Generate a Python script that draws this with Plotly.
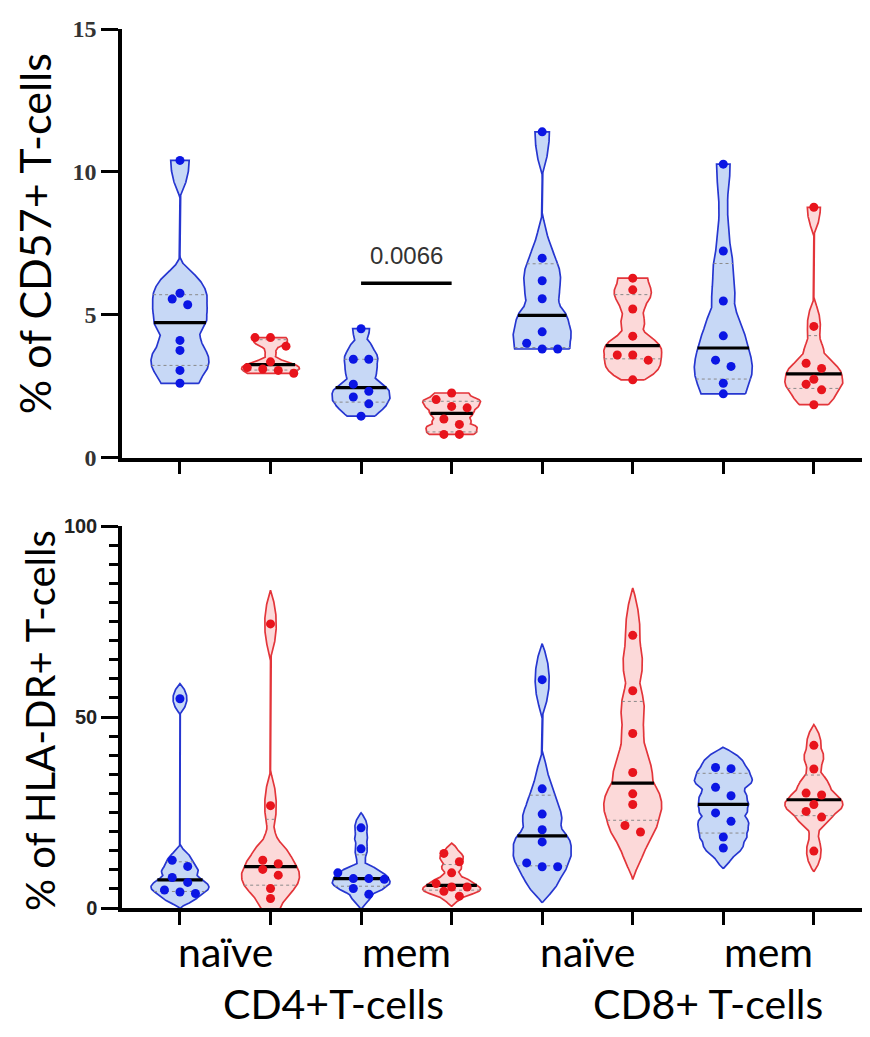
import numpy as np
import plotly.graph_objects as go

# ---------------- data ----------------
subsets = ["naïve", "mem", "naïve", "mem"]
lineages = ["CD4+T-cells", "CD8+ T-cells"]

# % of CD57+ T-cells, order: CD4 naive, CD4 mem, CD8 naive, CD8 mem
cd57_blue = [
    [10.4, 5.75, 5.55, 5.35, 4.1, 3.75, 3.05, 2.6],
    [4.51, 3.44, 3.44, 2.57, 2.32, 2.12, 1.88, 1.45],
    [11.4, 6.98, 6.19, 5.56, 4.4, 4.0, 3.8, 3.8],
    [10.27, 7.23, 5.48, 4.26, 3.41, 3.19, 2.6, 2.23],
]
cd57_red = [
    [4.2, 4.2, 3.9, 3.35, 3.15, 3.1, 3.05, 2.95],
    [2.26, 2.03, 1.79, 1.74, 1.35, 1.16, 0.81, 0.81],
    [6.28, 5.87, 5.2, 4.25, 3.59, 3.59, 3.41, 2.72],
    [8.76, 4.59, 3.3, 3.12, 2.74, 2.57, 2.37, 1.85],
]
# % of HLA-DR+ T-cells
hladr_blue = [
    [54.8, 12.5, 10.9, 8.0, 6.7, 4.7, 4.2, 3.8],
    [21.0, 15.5, 9.2, 7.7, 7.7, 7.5, 5.1, 3.6],
    [59.8, 31.2, 24.6, 20.5, 17.3, 11.8, 10.8, 10.8],
    [36.8, 36.5, 31.6, 29.4, 24.9, 22.7, 18.6, 15.7],
]
hladr_red = [
    [74.4, 26.8, 12.5, 11.6, 10.1, 8.6, 5.1, 2.5],
    [14.3, 12.1, 9.2, 6.4, 5.5, 5.5, 4.4, 3.1],
    [71.4, 56.9, 45.7, 35.5, 29.9, 27.1, 21.6, 19.9],
    [42.6, 36.4, 30.1, 29.6, 27.1, 25.3, 23.8, 14.9],
]
cd57_ticks = [0, 5, 10, 15]
hladr_ticks = [0, 50, 100]
pvalue_text = "0.0066"
pvalue_pair = (2, 3)      # CD4 mem blue vs red
pvalue_bar_y = 6.1

# ---------------- styling ----------------
PAGE_OFF = 8              # default body margin of the html page
W, H = 870, 1037
ML, MR, MT, MB = 122 - PAGE_OFF, PAGE_OFF, 24 - PAGE_OFF, 129 + PAGE_OFF
X_RANGE = [-0.64, 7.62]
PX_PER_X = (W - ML - MR) / (X_RANGE[1] - X_RANGE[0])
PLOT_H = H - MT - MB
TOP_DOM = [1 - 431 / PLOT_H, 1.0]
BOT_DOM = [0.0, 1 - 500 / PLOT_H]
TOP_PX_PER_Y = (TOP_DOM[1] - TOP_DOM[0]) * PLOT_H / 15.0
BOT_PX_PER_Y = (BOT_DOM[1] - BOT_DOM[0]) * PLOT_H / 100.0
HALF_W = 0.32

BLUE = dict(line="#2636d0", fill="rgba(196,214,246,0.95)", dot="#0b16e4")
RED = dict(line="#e3353a", fill="rgba(252,215,215,0.95)", dot="#e8141c")


def bandwidth(v):
    q1, q3 = np.percentile(v, [25, 75], method="weibull")
    sd = v.std(ddof=1)
    return 0.9 * min(sd, (q3 - q1) / 1.34) * len(v) ** (-0.2)


def density(v, ys, h):
    u = (np.atleast_1d(ys)[:, None] - v[None, :]) / h
    return np.clip(1 - u ** 2, 0, None).sum(1)


def swarm_offsets(v, px_per_y, d_px=9.0, step_px=15.5):
    order = np.argsort(v)
    offs = np.zeros(len(v))
    rows, cur = [], [order[0]]
    for idx in order[1:]:
        if (v[idx] - v[cur[0]]) * px_per_y > d_px:
            rows.append(cur)
            cur = [idx]
        else:
            cur.append(idx)
    rows.append(cur)
    for r in rows:
        r = sorted(r, key=lambda i: -v[i])
        k = len(r)
        for j, i in enumerate(r):
            offs[i] = (j - (k - 1) / 2) * step_px / PX_PER_X
    return offs


fig = go.Figure()


def add_violin(vals, center, col, xa, ya, hard, px_per_y):
    v = np.asarray(vals, float)
    h = 1.15 * bandwidth(v)
    lo, hi = (v.min(), v.max()) if hard else (v.min() - h, v.max() + h)
    ys = np.linspace(lo, hi, 400)
    d = density(v, ys, h)
    scale = HALF_W / d.max()
    w = d * scale
    xs = np.concatenate([center + w, (center - w)[::-1], [center + w[0]]])
    yy = np.concatenate([ys, ys[::-1], [ys[0]]])
    fig.add_trace(go.Scatter(x=xs, y=yy, mode="lines", fill="toself",
                             fillcolor=col["fill"], line=dict(color=col["line"], width=1.7),
                             xaxis=xa, yaxis=ya, hoverinfo="skip", showlegend=False))
    q1, med, q3 = np.percentile(v, [25, 50, 75], method="weibull")
    for q in (q1, q3):
        wq = density(v, q, h)[0] * scale
        fig.add_trace(go.Scatter(x=[center - wq, center + wq], y=[q, q], mode="lines",
                                 line=dict(color="#8a8a8a", width=1, dash="dot"),
                                 xaxis=xa, yaxis=ya, hoverinfo="skip", showlegend=False))
    wm = density(v, med, h)[0] * scale
    fig.add_trace(go.Scatter(x=[center - wm, center + wm], y=[med, med], mode="lines",
                             line=dict(color="black", width=3.2),
                             xaxis=xa, yaxis=ya, hoverinfo="skip", showlegend=False))
    offs = swarm_offsets(v, px_per_y)
    fig.add_trace(go.Scatter(x=center + offs, y=v, mode="markers",
                             marker=dict(color=col["dot"], size=9, line=dict(width=0)),
                             xaxis=xa, yaxis=ya, hoverinfo="y", showlegend=False))


for panel, (blue, red, xa, ya, hard, ppy) in enumerate([
        (cd57_blue, cd57_red, "x", "y", True, TOP_PX_PER_Y),
        (hladr_blue, hladr_red, "x2", "y2", False, BOT_PX_PER_Y)]):
    for g in range(4):
        add_violin(blue[g], 2 * g, BLUE, xa, ya, hard, ppy)
        add_violin(red[g], 2 * g + 1, RED, xa, ya, hard, ppy)

# p-value bar
fig.add_trace(go.Scatter(x=list(pvalue_pair), y=[pvalue_bar_y, pvalue_bar_y], mode="lines",
                         line=dict(color="black", width=3.5), xaxis="x", yaxis="y",
                         hoverinfo="skip", showlegend=False))

axis_common = dict(showline=True, linecolor="black", linewidth=3.5, showgrid=False,
                   zeroline=False, ticks="outside", tickcolor="black", tickwidth=3)

fig.update_layout(
    width=W, height=H, margin=dict(l=ML, r=MR, t=MT, b=MB),
    paper_bgcolor="white", plot_bgcolor="white", showlegend=False,
    xaxis=dict(**axis_common, domain=[0, 1], anchor="y", range=X_RANGE,
               tickvals=list(range(8)), ticklen=13, showticklabels=False),
    yaxis=dict(**axis_common, domain=TOP_DOM, anchor="x", range=[0, 15],
               tickvals=cd57_ticks, ticklen=17,
               tickfont=dict(family="Liberation Serif", size=24, color="#333", weight="bold")),
    xaxis2=dict(**axis_common, domain=[0, 1], anchor="y2", range=X_RANGE,
                tickvals=list(range(8)), ticklen=13, showticklabels=False),
    yaxis2=dict(**axis_common, domain=BOT_DOM, anchor="x2", range=[0, 100],
                tickvals=hladr_ticks, ticklen=17,
                tickfont=dict(family="Liberation Sans", size=20, color="#222", weight="bold"),
                minor=dict(dtick=5, ticks="outside", ticklen=9, tickwidth=2.5, tickcolor="black")),
)

ann = []
ann.append(dict(text=pvalue_text, x=sum(pvalue_pair) / 2, y=pvalue_bar_y, xref="x", yref="y",
                yanchor="bottom", yshift=12, showarrow=False,
                font=dict(family="Liberation Sans", size=24, color="#333")))
ann.append(dict(text="% of CD57+ T-cells", textangle=-90, xref="paper", yref="paper",
                x=0, xshift=-88, y=(TOP_DOM[0] + TOP_DOM[1]) / 2, yshift=9,
                xanchor="center", yanchor="middle", showarrow=False,
                font=dict(family="Lato", size=43, color="black")))
ann.append(dict(text="% of HLA-DR+ T-cells", textangle=-90, xref="paper", yref="paper",
                x=0, xshift=-82, y=(BOT_DOM[0] + BOT_DOM[1]) / 2, yshift=-4,
                xanchor="center", yanchor="middle", showarrow=False,
                font=dict(family="Lato", size=40, color="black")))
sub_font = dict(family="Lato", size=41, color="black")
lin_font = dict(family="Lato", size=41, color="black")
for i, s in enumerate(subsets):
    ann.append(dict(text=s, x=2 * i + 0.5, xref="x2", y=0, yref="paper", yanchor="middle",
                    yshift=-43, showarrow=False, font=sub_font))
for i, s in enumerate(lineages):
    ann.append(dict(text=s, x=4 * i + 1.5, xref="x2", y=0, yref="paper", yanchor="middle",
                    xshift=18 + 12 * i, yshift=-95, showarrow=False, font=lin_font))
fig.update_layout(annotations=ann)

fig.write_html("out.html")
